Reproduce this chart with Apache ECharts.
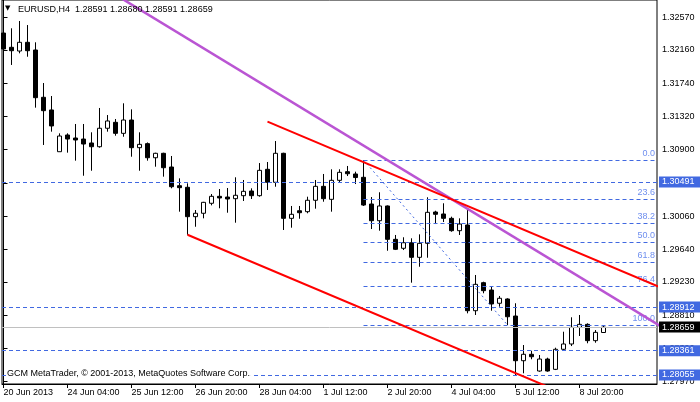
<!DOCTYPE html>
<html>
<head>
<meta charset="utf-8">
<script src="https://cdn.jsdelivr.net/npm/echarts@6/dist/echarts.min.js"></script>
<style>
  html, body { margin: 0; padding: 0; background: #fff; }
  #chart { width: 700px; height: 402px; }
</style>
</head>
<body>
<div id="chart"></div>
<script>
// EURUSD H4 candles (oldest first)
const opens = [1.32371,1.32191,1.32144,1.32254,1.32157,1.31560,1.31400,1.30873,1.31084,1.31046,
  1.31033,1.30983,1.30936,1.31169,1.31244,1.31105,1.31273,1.30924,1.30975,1.30797,
  1.30853,1.30680,1.30444,1.30424,1.30053,1.30096,1.30222,1.30310,1.30301,1.30280,
  1.30318,1.30377,1.30318,1.30651,1.30487,1.30853,1.30032,1.30128,1.30116,1.30260,
  1.30436,1.30272,1.30512,1.30621,1.30592,1.30550,1.30213,1.30002,1.30188,1.29767,
  1.29654,1.29724,1.29540,1.29717,1.30112,1.30087,1.30032,1.29876,1.29948,1.28866,
  1.29220,1.29127,1.28960,1.29014,1.28799,1.28235,1.28316,1.28105,1.28256,1.28126,
  1.28379,1.28446,1.28656,1.28694,1.28488,1.28591]
const highs = [1.32380,1.32431,1.32523,1.32472,1.32254,1.31740,1.31576,1.31105,1.31105,1.31223,
  1.31223,1.31118,1.31425,1.31336,1.31286,1.31484,1.31408,1.31118,1.30990,1.30860,
  1.30860,1.30819,1.30537,1.30474,1.30137,1.30240,1.30339,1.30402,1.30415,1.30550,
  1.30516,1.30411,1.30730,1.30743,1.31008,1.30860,1.30188,1.30188,1.30305,1.30516,
  1.30592,1.30651,1.30651,1.30693,1.30621,1.30768,1.30301,1.30361,1.30195,1.29822,
  1.29793,1.29780,1.29830,1.30298,1.30128,1.30222,1.30053,1.30032,1.30137,1.29317,
  1.29232,1.29169,1.29052,1.29023,1.28960,1.28433,1.28361,1.28307,1.28273,1.28399,
  1.28601,1.28783,1.28812,1.28707,1.28622,1.28680]
const lows = [1.31904,1.31968,1.32115,1.32072,1.31429,1.30958,1.31126,1.30873,1.30861,1.30760,
  1.30570,1.30633,1.30924,1.31126,1.31075,1.31062,1.30810,1.30633,1.30760,1.30684,
  1.30558,1.30411,1.30116,1.29825,1.29926,1.30032,1.30196,1.30159,1.30103,1.29977,
  1.30251,1.30276,1.30305,1.30390,1.30431,1.29885,1.29914,1.30027,1.30096,1.30154,
  1.30242,1.30116,1.30487,1.30566,1.30465,1.30188,1.29897,1.29876,1.29623,1.29632,
  1.29632,1.29220,1.29421,1.29535,1.29960,1.29986,1.29863,1.29822,1.28833,1.28812,
  1.29086,1.28866,1.28917,1.28686,1.28054,1.28076,1.28253,1.28096,1.28096,1.28117,
  1.28370,1.28420,1.28547,1.28455,1.28462,1.28591]
const closes = [1.32170,1.32148,1.32254,1.32148,1.31555,1.31391,1.31198,1.31071,1.31033,1.31021,
  1.30970,1.30936,1.31169,1.31261,1.31105,1.31273,1.30924,1.30966,1.30797,1.30853,
  1.30671,1.30431,1.30419,1.30053,1.30096,1.30234,1.30310,1.30289,1.30276,1.30323,
  1.30373,1.30318,1.30638,1.30487,1.30853,1.30032,1.30083,1.30103,1.30260,1.30436,
  1.30280,1.30512,1.30613,1.30595,1.30547,1.30200,1.30002,1.30188,1.29767,1.29641,
  1.29724,1.29540,1.29717,1.30108,1.30083,1.30032,1.29876,1.29960,1.28866,1.29199,
  1.29119,1.28951,1.29023,1.28790,1.28235,1.28316,1.28285,1.28256,1.28105,1.28379,
  1.28446,1.28656,1.28694,1.28488,1.28593,1.28659]

// time axis labels (every 8 bars)
const timeTickIdx = [0, 8, 16, 24, 32, 40, 48, 56, 64, 72]
const timeLabels = ['20 Jun 2013', '24 Jun 04:00', '25 Jun 12:00', '26 Jun 20:00', '28 Jun 04:00',
  '1 Jul 12:00', '2 Jul 20:00', '4 Jul 04:00', '5 Jul 12:00', '8 Jul 20:00']
// price scale labels
const priceTicks = [1.32570, 1.32160, 1.31740, 1.31320, 1.30900, 1.30480, 1.30060,
  1.29640, 1.29230, 1.28810, 1.28390, 1.27970]

// horizontal levels and current bid
const levelPrices = [1.30491, 1.28912, 1.28361, 1.28055]
const lastPrice = 1.28659

// fibonacci retracement
const fibStart = 45
const fibNames = ['0.0', '23.6', '38.2', '50.0', '61.8', '76.4', '100.0']
const fibPrices = [1.30768, 1.30277, 1.29973, 1.29727, 1.29481, 1.29177, 1.28686]
const fibDiag = [[45, 1.30768], [63, 1.28686]]

// trend lines [barIndex, price]
const purpleLine = [[14, 1.32854], [84, 1.28555]]
const redUpper = [[33, 1.31252], [84, 1.29079]]
const redLower = [[23, 1.29825], [70, 1.27823]]

const X_MIN = -0.1875, X_MAX = 81.6875
const Y_MIN = 1.27941, Y_MAX = 1.32788
const FONT = 'Liberation Sans'
const BLUE = '#4169E1'
const FIB_TXT = '#6F8FEF'

const candles = opens.map((o, i) => [i, o, closes[i], lows[i], highs[i]])

function hLine(v, color, type, bg) {
  return [
    { coord: [X_MIN, v],
      lineStyle: { color: color, type: type, width: 1 },
      label: { show: true, position: 'end', distance: 2, formatter: v.toFixed(5),
        backgroundColor: bg, color: '#fff', padding: [1, 8, 0, 3], lineHeight: 10,
        fontSize: 9, fontFamily: FONT } },
    { coord: [X_MAX, v] }
  ]
}
const levelLines = levelPrices.map(v => hLine(v, BLUE, [4, 3], BLUE))
levelLines.push(hLine(lastPrice, '#C0C0C0', 'solid', '#000'))

const fibLines = fibPrices.map((p, k) => [
  { coord: [fibStart, p],
    lineStyle: { color: BLUE, type: [4, 3], width: 1 },
    label: { show: true, position: 'insideEndTop', distance: 2, formatter: fibNames[k],
      color: FIB_TXT, fontSize: 9, fontFamily: FONT } },
  { coord: [X_MAX, p] }
])

function trend(data, color, width, type) {
  return {
    type: 'line', data: data, symbol: 'none', silent: true, z: 5,
    lineStyle: { color: color, width: width, type: type || 'solid' }
  }
}

const chart = echarts.init(document.getElementById('chart'))
chart.setOption({
  animation: false,
  backgroundColor: '#fff',
  grid: { left: 2, right: 43, top: 0, bottom: 18, show: true, borderColor: '#000', borderWidth: 1 },
  xAxis: {
    type: 'value', min: X_MIN, max: X_MAX,
    axisLine: { lineStyle: { color: '#000' } },
    axisTick: { customValues: timeTickIdx, length: 4, lineStyle: { color: '#000' } },
    axisLabel: {
      customValues: timeTickIdx, align: 'left', margin: 4,
      color: '#000', fontSize: 9, fontFamily: FONT,
      formatter: v => timeLabels[timeTickIdx.indexOf(Math.round(v))]
    },
    splitLine: { show: false }
  },
  yAxis: {
    type: 'value', position: 'right', min: Y_MIN, max: Y_MAX,
    axisLine: { show: true, lineStyle: { color: '#000' } },
    axisTick: { show: true, customValues: priceTicks, length: 4, lineStyle: { color: '#000' } },
    axisLabel: {
      customValues: priceTicks, margin: 5, color: '#000', fontSize: 9, fontFamily: FONT,
      formatter: v => v.toFixed(5)
    },
    splitLine: { show: false }
  },
  series: [
    {
      type: 'candlestick',
      data: candles,
      encode: { x: 0, y: [1, 2, 3, 4] },
      barWidth: 5,
      silent: true,
      itemStyle: { color: '#fff', color0: '#000', borderColor: '#000', borderColor0: '#000', borderWidth: 1 },
      markLine: {
        silent: true, symbol: ['none', 'none'], animation: false,
        data: fibLines.concat(levelLines)
      }
    },
    trend(fibDiag, BLUE, 1, [2, 3]),
    trend(purpleLine, '#BA55D3', 2.5),
    trend(redUpper, '#FF0000', 2),
    trend(redLower, '#FF0000', 2)
  ],
  graphic: [
    { type: 'text', left: 5, top: 5, z: 100, style: { text: '▼', font: '7px "DejaVu Sans"', fill: '#000' } },
    { type: 'text', left: 18, top: 5, z: 100,
      style: { text: 'EURUSD,H4  1.28591 1.28680 1.28591 1.28659', font: '9px "Liberation Sans"', fill: '#000' } },
    { type: 'text', left: 6, top: 368, z: 100,
      style: { text: 'GCM MetaTrader, © 2001-2013, MetaQuotes Software Corp.', font: '9px "Liberation Sans"',
        fill: '#000', backgroundColor: '#fff', padding: [1, 1, 1, 1] } }
  ]
})
</script>
</body>
</html>
